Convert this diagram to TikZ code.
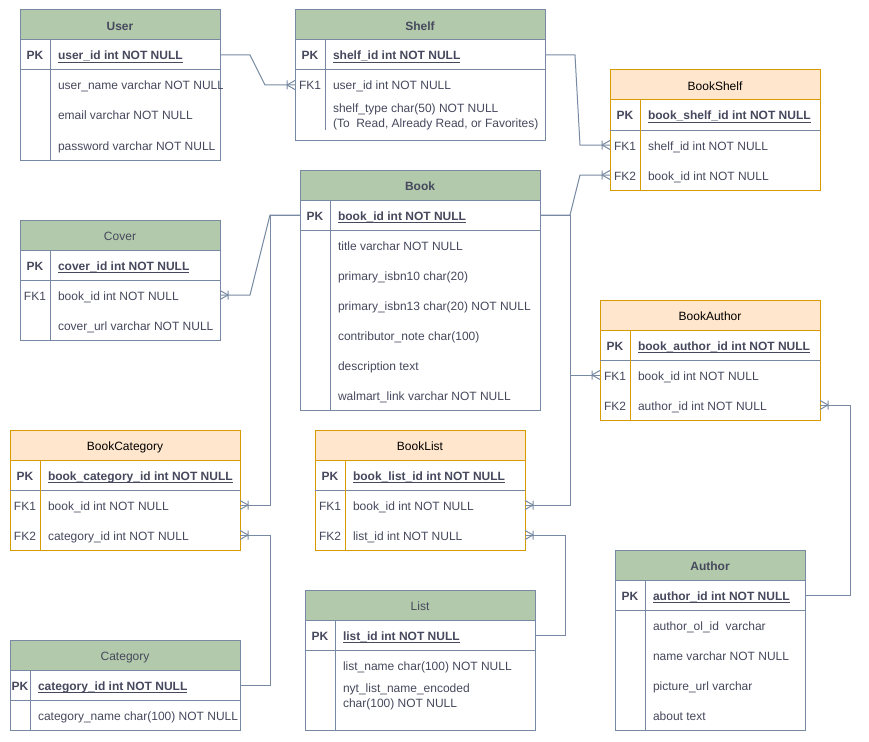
\documentclass[tikz,border=0pt]{standalone}
\usepackage{fontspec}
\setmainfont{Liberation Sans}
\usetikzlibrary{calc}
\definecolor{gfill}{HTML}{B2C9AB}
\definecolor{gline}{HTML}{788AA3}
\definecolor{gtext}{HTML}{46495D}
\definecolor{ofill}{HTML}{FFE6CC}
\definecolor{oline}{HTML}{D79B00}
\newcommand\erfont{\fontsize{12pt}{14pt}\selectfont}
\tikzset{
  every node/.style={font=\erfont, inner sep=0pt, outer sep=0pt, text=gtext},
  tboxgreen/.style={draw=gline, fill=white, line width=1pt},
  tboxorange/.style={draw=oline, fill=white, line width=1pt},
  headgreen/.style={draw=gline, fill=gfill, line width=1pt},
  headorange/.style={draw=oline, fill=ofill, line width=1pt},
  divgreen/.style={draw=gline, line width=1pt},
  divorange/.style={draw=oline, line width=1pt},
  sepline/.style={draw=gline, line width=1pt},
  rowbox/.style={minimum height=30pt, draw=none},
  pkt/.style={font=\erfont\bfseries},
  fieldt/.style={},
  uline/.style={draw=gtext, line width=0.9pt},
  ttlbold/.style={font=\erfont\bfseries},
  ttlreg/.style={},
  ttlblack/.style={text=black},
  conn/.style={draw=gline, line width=1pt},
  crowL/.pic={\draw[conn] (-8,0) -- (0,-4.5) (-8,0) -- (0,4.5) (-8,-4.5) -- (-8,4.5);},
  crowR/.pic={\draw[conn] (8,0) -- (0,-4.5) (8,0) -- (0,4.5) (8,-4.5) -- (8,4.5);},
}
% #1 name #2 x1 #3 y1 #4 x2 #5 y2 #6 title style #7 title #8 kind
\newcommand\ertab[8]{%
  \node[tbox#8, minimum width={(#4-#2)*1pt}, minimum height={(#5-#3)*1pt}, anchor=north west] (#1) at (#2,#3) {};
  \node[head#8, minimum width={(#4-#2)*1pt}, minimum height=30pt, anchor=north west] (#1H) at (#2,#3) {};
  \node[#6, anchor=base] (#1T) at ({(#2+#4)/2},{#3+20.5}) {#7};
  \draw[sepline] (#2,{#3+60}) -- (#4,{#3+60});
}
% #1 name #2 xl #3 xdiv #4 xr #5 yc #6 text
\newcommand\erpk[6]{%
  \node[rowbox, minimum width={(#4-#2)*1pt}, anchor=west] (#1) at (#2,#5) {};
  \node[pkt, anchor=base] (#1K) at ({(#2+#3)/2},{#5+5}) {PK};
  \node[pkt, anchor=base west] (#1F) at ({#3+8},{#5+5}) {#6};
  \draw[uline] ([yshift=-2.3pt]#1F.base west) -- ([yshift=-2.3pt]#1F.base east);
}
% #1 name #2 xl #3 xdiv #4 xr #5 yc #6 key #7 text
\newcommand\erfk[7]{%
  \node[rowbox, minimum width={(#4-#2)*1pt}, anchor=west] (#1) at (#2,#5) {};
  \node[fieldt, anchor=base] (#1K) at ({(#2+#3)/2},{#5+5}) {#6};
  \node[fieldt, anchor=base west] (#1F) at ({#3+8},{#5+5}) {#7};
}
\begin{document}
\begin{tikzpicture}[x=1pt, y=-1pt]
\fill[white] (0,0) rectangle (869,741);
\useasboundingbox (0,0) rectangle (869,741);

% User
\ertab{user}{20}{10}{220}{160}{ttlbold}{User}{green}
\draw[divgreen] (50,40) -- (50,160);
\erpk{userPK}{20}{50}{220}{55}{user\_id int NOT NULL}
\begin{scope}
\clip (20,70) rectangle (222,100);
\erfk{userName}{20}{50}{220}{85}{}{user\_name varchar NOT NULL}
\end{scope}
\erfk{userEmail}{20}{50}{220}{115}{}{email varchar NOT NULL}
\erfk{userPw}{20}{50}{220}{145}{}{password varchar NOT NULL}

% Shelf
\ertab{shelf}{295}{10}{545}{140}{ttlbold}{Shelf}{green}
\draw[divgreen] (325,40) -- (325,130);
\erpk{shelfPK}{295}{325}{545}{55}{shelf\_id int NOT NULL}
\erfk{shelfFK}{295}{325}{545}{85}{FK1}{user\_id int NOT NULL}
\node[rowbox, minimum height=40pt, minimum width=250pt, anchor=north west] (shelfType) at (295,100) {};
\node[fieldt, anchor=base west] (shelfTypeA) at (333,112.8) {shelf\_type char(50) NOT NULL};
\node[fieldt, anchor=base west] (shelfTypeB) at (333,127.8) {(To\ \ Read, Already Read, or Favorites)};

% BookShelf
\ertab{bs}{610}{70}{820}{190}{ttlblack}{BookShelf}{orange}
\draw[divorange] (640,100) -- (640,190);
\erpk{bsPK}{610}{640}{820}{115}{book\_shelf\_id int NOT NULL}
\erfk{bsFKa}{610}{640}{820}{145}{FK1}{shelf\_id int NOT NULL}
\erfk{bsFKb}{610}{640}{820}{175}{FK2}{book\_id int NOT NULL}

% Cover
\ertab{cover}{20}{220}{220}{340}{ttlreg}{Cover}{green}
\draw[divgreen] (50,250) -- (50,340);
\erpk{coverPK}{20}{50}{220}{265}{cover\_id int NOT NULL}
\erfk{coverFK}{20}{50}{220}{295}{FK1}{book\_id int NOT NULL}
\erfk{coverUrl}{20}{50}{220}{325}{}{cover\_url varchar NOT NULL}

% Book
\ertab{book}{300}{170}{540}{410}{ttlbold}{Book}{green}
\draw[divgreen] (330,200) -- (330,410);
\erpk{bookPK}{300}{330}{540}{215}{book\_id int NOT NULL}
\erfk{bookTitle}{300}{330}{540}{245}{}{title varchar NOT NULL}
\erfk{bookIsbnA}{300}{330}{540}{275}{}{primary\_isbn10 char(20)}
\erfk{bookIsbnB}{300}{330}{540}{305}{}{primary\_isbn13 char(20) NOT NULL}
\erfk{bookNote}{300}{330}{540}{335}{}{contributor\_note char(100)}
\erfk{bookDesc}{300}{330}{540}{365}{}{description text}
\erfk{bookLink}{300}{330}{540}{395}{}{walmart\_link varchar NOT NULL}

% BookAuthor
\ertab{ba}{600}{300}{820}{420}{ttlblack}{BookAuthor}{orange}
\draw[divorange] (630,330) -- (630,420);
\erpk{baPK}{600}{630}{820}{345}{book\_author\_id int NOT NULL}
\erfk{baFKa}{600}{630}{820}{375}{FK1}{book\_id int NOT NULL}
\erfk{baFKb}{600}{630}{820}{405}{FK2}{author\_id int NOT NULL}

% BookCategory
\ertab{bc}{10}{430}{240}{550}{ttlblack}{BookCategory}{orange}
\draw[divorange] (40,460) -- (40,550);
\erpk{bcPK}{10}{40}{240}{475}{book\_category\_id int NOT NULL}
\erfk{bcFKa}{10}{40}{240}{505}{FK1}{book\_id int NOT NULL}
\erfk{bcFKb}{10}{40}{240}{535}{FK2}{category\_id int NOT NULL}

% BookList
\ertab{bl}{315}{430}{525}{550}{ttlblack}{BookList}{orange}
\draw[divorange] (345,460) -- (345,550);
\erpk{blPK}{315}{345}{525}{475}{book\_list\_id int NOT NULL}
\erfk{blFKa}{315}{345}{525}{505}{FK1}{book\_id int NOT NULL}
\erfk{blFKb}{315}{345}{525}{535}{FK2}{list\_id int NOT NULL}

% Author
\ertab{author}{615}{550}{805}{730}{ttlbold}{Author}{green}
\draw[divgreen] (645,580) -- (645,730);
\erpk{authorPK}{615}{645}{805}{595}{author\_id int NOT NULL}
\erfk{authorOl}{615}{645}{805}{625}{}{author\_ol\_id\ \ varchar}
\erfk{authorName}{615}{645}{805}{655}{}{name varchar NOT NULL}
\erfk{authorPic}{615}{645}{805}{685}{}{picture\_url varchar}
\erfk{authorAbout}{615}{645}{805}{715}{}{about text}

% Category
\ertab{cat}{10}{640}{240}{730}{ttlreg}{Category}{green}
\draw[divgreen] (30,670) -- (30,730);
\erpk{catPK}{10}{30}{240}{685}{category\_id int NOT NULL}
\erfk{catName}{10}{30}{240}{715}{}{category\_name char(100) NOT NULL}

% List
\ertab{list}{305}{590}{535}{730}{ttlreg}{List}{green}
\draw[divgreen] (335,620) -- (335,730);
\erpk{listPK}{305}{335}{535}{635}{list\_id int NOT NULL}
\erfk{listName}{305}{335}{535}{665}{}{list\_name char(100) NOT NULL}
\node[rowbox, minimum height=50pt, minimum width=230pt, anchor=north west] (listNyt) at (305,680) {};
\node[fieldt, anchor=base west] (listNytA) at (343,692.8) {nyt\_list\_name\_encoded};
\node[fieldt, anchor=base west] (listNytB) at (343,707.8) {char(100) NOT NULL};

% connectors
\draw[conn] (userPK.east) -- ++(30,0) -- ($(shelfFK.west)+(-30,0)$) -- (shelfFK.west);
\pic at (shelfFK.west) {crowL};
\draw[conn] (shelfPK.east) -- ++(30,0) -- ($(bsFKa.west)+(-30,0)$) -- (bsFKa.west);
\pic at (bsFKa.west) {crowL};
\draw[conn] (bookPK.east) -- ++(30,0) -- ($(bsFKb.west)+(-30,0)$) -- (bsFKb.west);
\pic at (bsFKb.west) {crowL};
\draw[conn] (bookPK.west) -- ++(-30,0) -- ($(coverFK.east)+(30,0)$) -- (coverFK.east);
\pic at (coverFK.east) {crowR};
\draw[conn] (bookPK.west) -- ++(-30,0) |- (bcFKa.east);
\pic at (bcFKa.east) {crowR};
\draw[conn] (bookPK.east) -- ++(30,0) |- (blFKa.east);
\pic at (blFKa.east) {crowR};
\draw[conn] (bookPK.east) -- ++(30,0) |- (baFKa.west);
\pic at (baFKa.west) {crowL};
\draw[conn] (authorPK.east) -- ++(45,0) |- (baFKb.east);
\pic at (baFKb.east) {crowR};
\draw[conn] (catPK.east) -- ++(30,0) |- (bcFKb.east);
\pic at (bcFKb.east) {crowR};
\draw[conn] (listPK.east) -- ++(30,0) |- (blFKb.east);
\pic at (blFKb.east) {crowR};
\end{tikzpicture}
\end{document}
